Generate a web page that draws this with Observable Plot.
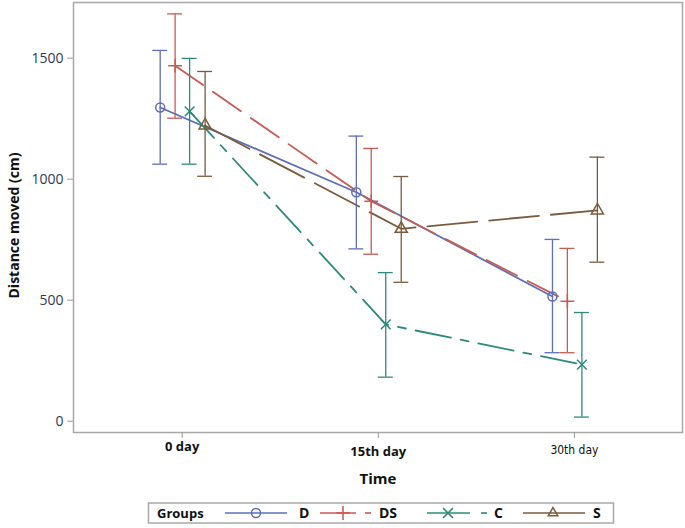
<!DOCTYPE html>
<html><head><meta charset="utf-8">
<script src="https://cdn.jsdelivr.net/npm/d3@7"></script>
<script src="https://cdn.jsdelivr.net/npm/@observablehq/plot@0.6"></script>
<style>
body{margin:0;background:#fff;}
#wrap{position:relative;width:685px;height:528px;font-family:"Open Sans",sans-serif;}
#wrap svg{overflow:visible;}
#chart [aria-label="y-axis tick"]{stroke:#9a9a9a;}
#chart [aria-label="x-axis tick"]{stroke:#9a9a9a;}
#legend{position:absolute;left:0;top:495px;}
</style></head><body><div id="wrap"><div id="chart"></div><div id="legend"></div></div>
<script>
// ---- data ----
const groups = ["D", "DS", "C", "S"];
const timeLabels = ["0 day", "15th day", "30th day"];
const meanD  = [1296, 946, 515];
const lowD   = [1062, 712, 283];
const highD  = [1532, 1178, 751];
const meanDS = [1469, 909, 496];
const lowDS  = [1252, 690, 283];
const highDS = [1683, 1127, 714];
const meanC  = [1280, 400, 234];
const lowC   = [1062, 182, 17];
const highC  = [1499, 614, 449];
const meanS  = [1222, 795, 871];
const lowS   = [1012, 574, 657];
const highS  = [1445, 1011, 1091];
const yTicks = [0, 500, 1000, 1500];

// ---- styles / layout ----
const colors = ["#5e6fb6", "#c85a52", "#2b8a7b", "#7b5b3b"];
const symbols = ["circle", "plus", "times", "triangle"];
const dashes = [null, "34,12", "36,10,8,10", "50,12"];
const dodge = [-0.112, -0.036, 0.038, 0.117];
const cap = 0.038;

const series = {D: [meanD, lowD, highD], DS: [meanDS, lowDS, highDS], C: [meanC, lowC, highC], S: [meanS, lowS, highS]};
const data = [];
groups.forEach((g, gi) => {
  const [m, lo, hi] = series[g];
  timeLabels.forEach((t, ti) => {
    data.push({group: g, time: t, xpos: ti + dodge[gi], mean: m[ti], low: lo[ti], high: hi[ti]});
  });
});

const lineMarks = groups.map((g, gi) => Plot.line(data.filter(d => d.group === g), {
  x: "xpos", y: "mean", stroke: colors[gi], strokeWidth: 1.8,
  strokeDasharray: dashes[gi] || undefined
}));

const plot = Plot.plot({
  width: 685, height: 495,
  marginLeft: 73, marginTop: 2, marginRight: 3, marginBottom: 63,
  style: {fontFamily: "'Open Sans', sans-serif", background: "#fff"},
  x: {domain: [-0.554, 2.551]},
  y: {domain: [-46.7, 1730]},
  color: {domain: groups, range: colors},
  symbol: {domain: groups, range: symbols},
  marks: [
    Plot.frame({stroke: "#a8a8a8", strokeWidth: 1.5}),
    Plot.axisY({ticks: yTicks, tickSize: 6, tickPadding: 4, tickFormat: d => String(d), label: null, fontSize: 14, color: "#2b3a55"}),
    Plot.axisX({ticks: [0, 1, 2], tickSize: 6, tickFormat: () => "", label: null}),
    Plot.text([timeLabels[0]], {x: () => 0, text: d => d, frameAnchor: "bottom", dy: 18, fontWeight: "bold", fontSize: 13, fill: "#111"}),
    Plot.text([timeLabels[1]], {x: () => 1, text: d => d, frameAnchor: "bottom", dy: 23, fontWeight: "bold", fontSize: 13, fill: "#111"}),
    Plot.text([timeLabels[2]], {x: () => 2, text: d => d, frameAnchor: "bottom", dy: 21, fontSize: 12, fontFamily: "'DejaVu Sans Condensed', sans-serif", fill: "#111"}),
    Plot.text(["Time"], {text: d => d, frameAnchor: "bottom", dy: 51, fontWeight: "bold", fontSize: 15, fill: "#111"}),
    Plot.text(["Distance moved (cm)"], {text: d => d, frameAnchor: "left", textAnchor: "middle", dx: -59, dy: 8, rotate: -90, fontWeight: "bold", fontSize: 14, fill: "#111"}),
    ...lineMarks,
    Plot.ruleX(data, {x: "xpos", y1: "low", y2: "high", stroke: "group", strokeWidth: 1.3}),
    Plot.ruleY(data, {y: "low", x1: d => d.xpos - cap, x2: d => d.xpos + cap, stroke: "group", strokeWidth: 1.3}),
    Plot.ruleY(data, {y: "high", x1: d => d.xpos - cap, x2: d => d.xpos + cap, stroke: "group", strokeWidth: 1.3}),
    Plot.dot(data, {x: "xpos", y: "mean", symbol: "group", stroke: "group", fill: "none", r: 4.5, strokeWidth: 1.5})
  ]
});
document.getElementById("chart").appendChild(plot);

// ---- legend ----
const lg = d3.select("#legend").append("svg").attr("width", 685).attr("height", 33);
lg.append("rect").attr("x", 148.5).attr("y", 8).attr("width", 465).attr("height", 20)
  .attr("fill", "#fff").attr("stroke", "#a8a8a8").attr("stroke-width", 1.5);
const ty = 18;
lg.append("text").attr("x", 157).attr("y", ty).attr("dy", "0.35em").attr("font-weight", "bold")
  .attr("font-size", 13).attr("fill", "#111").text("Groups");
const items = [
  {x1: 225, x2: 287, mx: 256, extra: null, tx: 299},
  {x1: 320, x2: 356, mx: 343, extra: 368, tx: 379},
  {x1: 427, x2: 470, mx: 448, extra: 484, tx: 494},
  {x1: 523, x2: 585, mx: 553, extra: null, tx: 593}
];
const sym = d3.scaleOrdinal(groups, [d3.symbolCircle, d3.symbolPlus, d3.symbolTimes, d3.symbolTriangle2]);
groups.forEach((g, i) => {
  const it = items[i];
  lg.append("line").attr("x1", it.x1).attr("x2", it.x2).attr("y1", ty).attr("y2", ty)
    .attr("stroke", colors[i]).attr("stroke-width", 1.6);
  lg.append("path").attr("d", d3.symbol(sym(g), 64)()).attr("transform", `translate(${it.mx},${ty})`)
    .attr("fill", "none").attr("stroke", colors[i]).attr("stroke-width", 1.5);
  if (it.extra) lg.append("line").attr("x1", it.extra - 3).attr("x2", it.extra + 3).attr("y1", ty).attr("y2", ty)
    .attr("stroke", colors[i]).attr("stroke-width", 1.6);
  lg.append("text").attr("x", it.tx).attr("y", ty).attr("dy", "0.35em").attr("font-weight", "bold")
    .attr("font-size", 14).attr("fill", "#111").text(g);
});
</script></body></html>
